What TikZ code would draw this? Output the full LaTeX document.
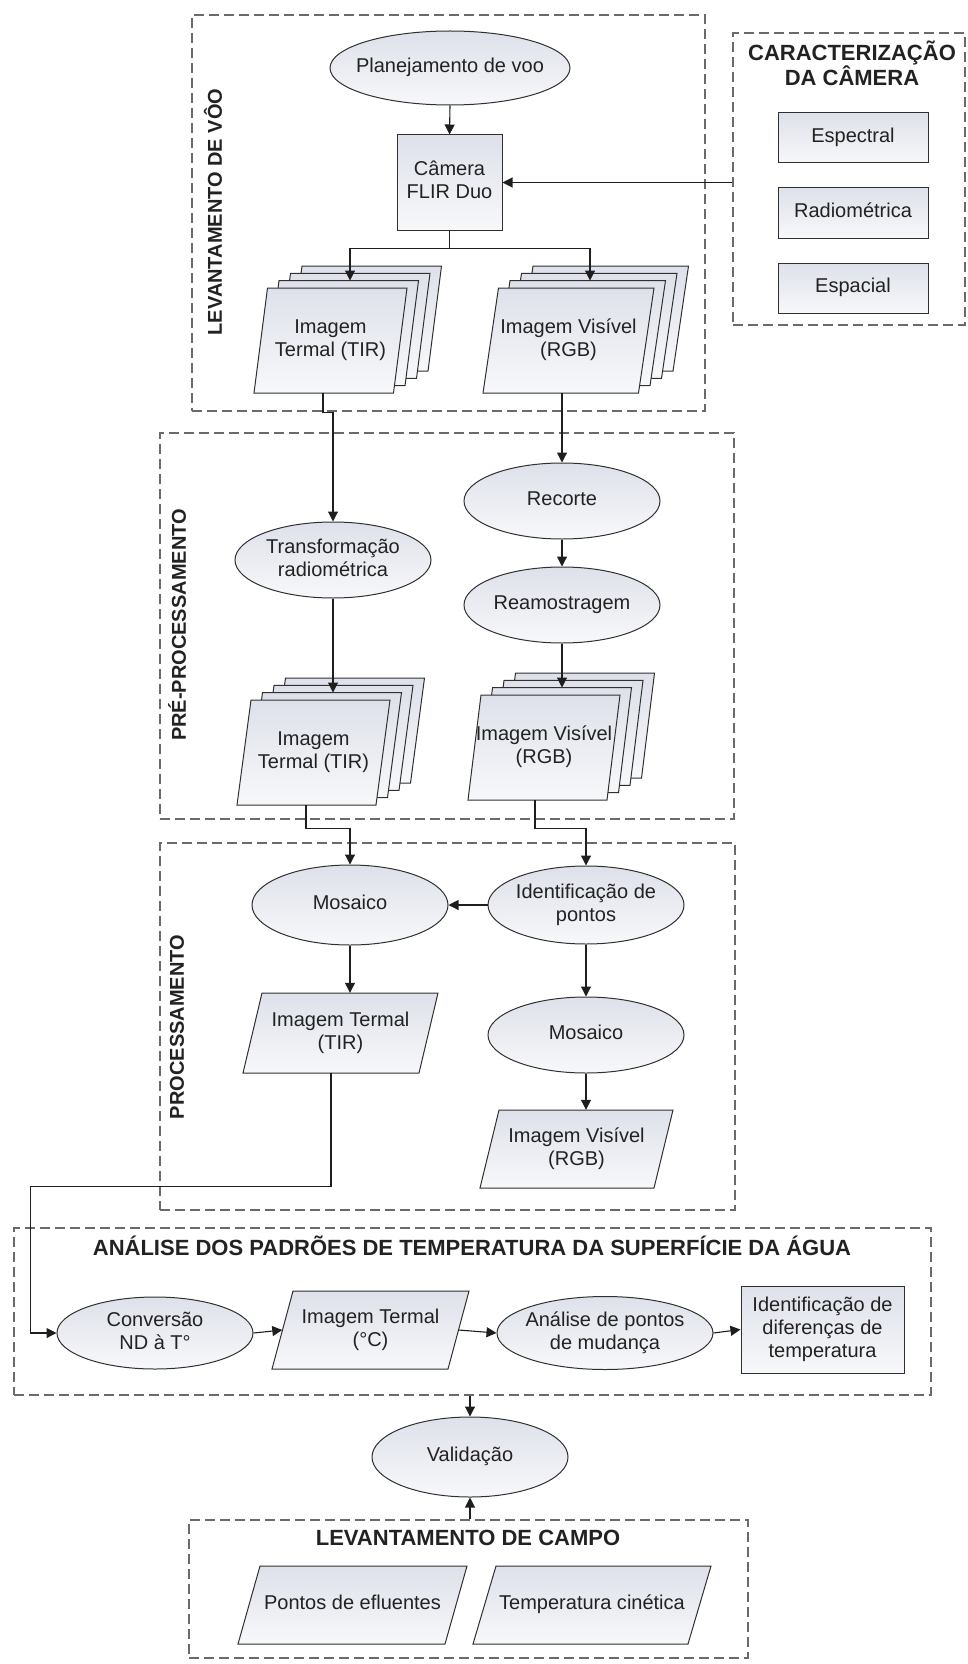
\documentclass[tikz,border=0pt]{standalone}
\usepackage{fontspec}
\setmainfont{Liberation Sans}
\usetikzlibrary{shapes.geometric,arrows.meta,calc}
\definecolor{gtop}{HTML}{DEE1EA}
\definecolor{gbot}{HTML}{F7F8FA}
\definecolor{linec}{HTML}{303030}
\definecolor{arrc}{HTML}{1E1E1E}
\definecolor{dashc}{HTML}{6A6A6A}
\definecolor{txtc}{HTML}{222222}
\newcommand\bodyfnt{\fontsize{20}{23}\selectfont}
\newcommand\ttlfnt{\fontsize{22}{21}\selectfont\bfseries}
\newcommand\labfnt{\fontsize{20}{20}\selectfont\bfseries}
\newcommand\ctext[1]{\makebox[20pt]{\begin{tabular}{@{}c@{}}#1\end{tabular}}}
% parallelogram face: x y W H skew
\newcommand\paraface[5]{%
  \draw[shp] (#1-#3/2,#2+#4/2) -- (#1+#3/2-#5,#2+#4/2) -- (#1+#3/2,#2-#4/2) -- (#1-#3/2+#5,#2-#4/2) -- cycle;}
% name x y W H skew text
\newcommand\paranode[7]{%
  \paraface{#2}{#3}{#4}{#5}{#6}%
  \node[txt,minimum width=#4pt,minimum height=#5pt] (#1) at (#2,#3) {\ctext{#7}};}
\newcommand\stacknode[7]{%
  \foreach \k in {3,2,1}{\paraface{#2+11.5*\k}{#3-7.3*\k}{#4}{#5}{#6}}%
  \paranode{#1}{#2}{#3}{#4}{#5}{#6}{#7}}
\begin{document}
\begin{tikzpicture}[x=1pt,y=-1pt,
  shp/.style={draw=linec,line width=1pt,top color=gtop,bottom color=gbot},
  txt/.style={inner sep=0pt,font=\bodyfnt,text=txtc},
  elli/.style={shp,txt,ellipse,minimum width=196pt,minimum height=76pt},
  rbox/.style={shp,txt,rectangle},
  dbox/.style={draw=dashc,line width=1.7pt,dash pattern=on 10pt off 5pt,inner sep=0pt},
  ttl/.style={inner sep=0pt,font=\ttlfnt,text=txtc},
  lab/.style={inner sep=0pt,font=\labfnt,text=txtc,rotate=90},
  arr/.style={draw=arrc,line width=1.1pt,-{Triangle[length=10pt,width=10pt]}},
]
\useasboundingbox (0,0) rectangle (968,1664);
% dashed group boxes
\node[dbox,minimum width=513pt,minimum height=396pt] (bvoo) at (448.5,213) {};
\node[dbox,minimum width=232pt,minimum height=292pt] (bchar) at (849,179) {};
\node[dbox,minimum width=574pt,minimum height=386pt] (bpre) at (447,626) {};
\node[dbox,minimum width=575pt,minimum height=367pt] (bproc) at (447.5,1026.5) {};
\node[dbox,minimum width=917pt,minimum height=167pt] (ban) at (472.5,1311.5) {};
\node[dbox,minimum width=559pt,minimum height=138pt] (bcampo) at (468.5,1589) {};
% group labels
\node[lab] (lvoo) at (213,212) {LEVANTAMENTO DE VÔO};
\node[lab] (lpre) at (177,625) {PRÉ-PROCESSAMENTO};
\node[lab] (lproc) at (177,1027) {PROCESSAMENTO};
\node[ttl,align=center] (tchar) at (852,63) {CARACTERIZAÇÃO\\DA CÂMERA};
\node[ttl] (tan) at (472,1246) {ANÁLISE DOS PADRÕES DE TEMPERATURA DA SUPERFÍCIE DA ÁGUA};
\node[ttl] (tcampo) at (468,1538) {LEVANTAMENTO DE CAMPO};
% flight survey
\node[elli,minimum width=240pt,minimum height=74pt] (plan) at (450,68) {\ctext{Planejamento de voo}};
\node[rbox,minimum width=105pt,minimum height=95pt] (cam) at (449.5,182.5) {\ctext{Câmera\\FLIR Duo}};
\node[rbox,minimum width=150pt,minimum height=50pt] (esp) at (853,138) {\ctext{Espectral}};
\node[rbox,minimum width=150pt,minimum height=50pt] (rad) at (853,213) {\ctext{Radiométrica}};
\node[rbox,minimum width=150pt,minimum height=50pt] (spa) at (853,288) {\ctext{Espacial}};
\stacknode{ts1}{330.5}{340.5}{153}{105}{13.5}{Imagem\\Termal (TIR)}
\stacknode{vs1}{568.5}{340.5}{171}{105}{15.5}{Imagem Visível\\(RGB)}
% pre-processing
\node[elli] (trans) at (333,560) {\ctext{Transformação\\radiométrica}};
\node[elli] (rec) at (562,501) {\ctext{Recorte}};
\node[elli] (ream) at (562,605) {\ctext{Reamostragem}};
\stacknode{ts2}{313.5}{752.5}{153}{105}{14}{Imagem\\Termal (TIR)}
\stacknode{vs2}{544}{747.5}{152}{105}{13}{Imagem Visível\\(RGB)}
% processing
\node[elli,minimum height=80pt] (mos1) at (350,905) {\ctext{Mosaico}};
\node[elli,minimum height=78pt] (ident) at (586,905) {\ctext{Identificação de\\pontos}};
\paranode{tir}{340.5}{1033}{195}{80}{19}{Imagem Termal\\(TIR)}
\node[elli] (mos2) at (586,1035) {\ctext{Mosaico}};
\paranode{rgb}{576.5}{1149}{193}{78}{19}{Imagem Visível\\(RGB)}
% analysis
\node[elli,minimum height=72pt] (conv) at (155,1333) {\ctext{Conversão\\ND à T°}};
\paranode{imgc}{370.5}{1330}{197}{78}{21}{Imagem Termal\\(°C)}
\node[elli,minimum width=216pt,minimum height=73pt] (anal) at (605,1333) {\ctext{Análise de pontos\\de mudança}};
\node[rbox,minimum width=163pt,minimum height=87pt] (difs) at (822.5,1329.5) {\ctext{Identificação de\\diferenças de\\temperatura}};
% validation and field survey
\node[elli,minimum height=80pt] (val) at (470,1457) {\ctext{Validação}};
\paranode{pef}{352.5}{1605}{229}{78}{22}{Pontos de efluentes}
\paranode{tcin}{592}{1605}{238}{78}{23}{Temperatura cinética}
% connectors
\coordinate (ts1in) at ($(ts1.north)+(19.5,-7.3)$);
\coordinate (vs1in) at ($(vs1.north)+(21.5,-7.3)$);
\coordinate (ts2in) at ($(ts2.north)+(19.5,-7.3)$);
\coordinate (vs2in) at ($(vs2.north)+(18,-7.3)$);
\draw[arr] (plan.south) -- (cam.north);
\draw[arr] (cam.south) -- ++(0,18) -| (ts1in);
\draw[arr] (cam.south) -- ++(0,18) -| (vs1in);
\draw[arr] (bchar.west |- cam.east) -- (cam.east);
\draw[arr] ([xshift=-7.5pt]ts1.south) -- ++(0,19) -| (trans.north);
\draw[arr] (rec.north |- vs1.south) -- (rec.north);
\draw[arr] (rec.south) -- (ream.north);
\draw[arr] (trans.south) -- (ts2in);
\draw[arr] (ream.south) -- (vs2in);
\draw[arr] ([xshift=-7.5pt]ts2.south) -- ++(0,23) -| (mos1.north);
\draw[arr] ([xshift=-9pt]vs2.south) -- ++(0,28) -| (ident.north);
\draw[arr] (ident.west) -- (mos1.east);
\draw[arr] (mos1.south) -- (mos1.south |- tir.north);
\draw[arr] (ident.south) -- (mos2.north);
\draw[arr] (mos2.south) -- (mos2.south |- rgb.north);
\draw[arr] ([xshift=-9.5pt]tir.south) -- ++(0,113) -| ([xshift=-26pt]conv.west) -- (conv.west);
\draw[arr] (conv.east) -- ([xshift=10.5pt]imgc.west);
\draw[arr] ([xshift=-10.5pt]imgc.east) -- (anal.west);
\draw[arr] (anal.east) -- (difs.west);
\draw[arr] (ban.south -| val.north) -- (val.north);
\draw[arr] (bcampo.north -| val.south) -- (val.south);
\end{tikzpicture}
\end{document}
